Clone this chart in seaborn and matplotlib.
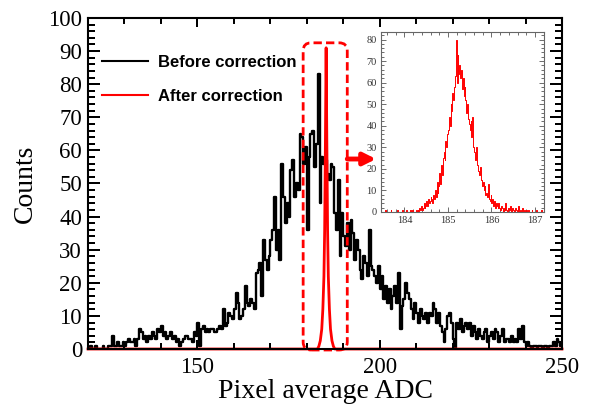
import numpy as np
import pandas as pd
import matplotlib
matplotlib.use("Agg")
import matplotlib.pyplot as plt
import seaborn as sns
from matplotlib.patches import FancyBboxPatch
from matplotlib.lines import Line2D
from matplotlib.ticker import MultipleLocator
from matplotlib.font_manager import FontProperties

# ---------------- data ----------------
# Pixel-average ADC distribution before correction: 0.5 ADC bins from 120 to 250
before_range = (120.0, 250.0)
before_counts = [
    0, 1, 0, 0, 1, 0, 0, 0, 1, 0, 0, 1, 1, 4, 1, 1, 2, 1, 1, 2,      # 120-130
    1, 2, 3, 2, 2, 3, 1, 3, 6, 5, 3, 4, 2, 4, 3, 5, 4, 3, 6, 5,      # 130-140
    7, 4, 5, 3, 4, 5, 3, 4, 2, 3, 1, 2, 3, 4, 4, 3, 3, 2, 5, 4,      # 140-150
    8, 1, 6, 7, 5, 6, 5, 6, 6, 5, 5, 6, 7, 6, 12, 7, 8, 11, 10, 9,   # 150-160
    12, 17, 14, 9, 10, 12, 19, 14, 13, 15, 14, 12, 23, 24, 26, 16, 33, 27, 24, 28,  # 160-170
    33, 36, 46, 30, 36, 27, 56, 46, 38, 44, 40, 54, 57, 46, 50, 48, 65, 64, 56, 61,  # 170-180
    36, 58, 65, 66, 55, 62, 83, 44, 58, 56, 57, 53, 51, 56, 55, 41, 36, 51, 28, 41,  # 180-190
    34, 31, 38, 30, 39, 35, 27, 33, 30, 24, 21, 28, 26, 22, 36, 25, 24, 22, 20, 25,  # 190-200
    18, 22, 15, 19, 14, 18, 12, 16, 19, 14, 23, 6, 13, 15, 20, 17, 15, 12, 9, 14,    # 200-210
    11, 8, 12, 10, 9, 11, 8, 11, 10, 14, 12, 8, 11, 7, 5, 2, 6, 10, 11, 8,           # 210-220
    3, 0, 8, 6, 9, 5, 7, 8, 6, 8, 4, 7, 5, 3, 6, 4, 3, 5, 6, 2,                      # 220-230
    4, 5, 3, 6, 5, 2, 4, 6, 2, 3, 3, 2, 4, 2, 3, 2, 6, 3, 7, 2,                      # 230-240
    1, 2, 1, 0, 1, 1, 0, 1, 1, 0, 1, 1, 0, 1, 1, 2, 1, 3, 2, 1,                      # 240-250
]

# Distribution after correction (main panel)
after_adc = [120.0, 182.9, 183.3, 183.7, 184.1, 184.4, 184.7, 184.9, 185.1, 185.3,
             185.5, 185.7, 185.9, 186.2, 186.5, 186.9, 187.3, 187.7, 250.0]
after_counts = [0, 0, 0.8, 2.5, 6, 12, 22, 36, 62, 91,
                62, 36, 22, 12, 6, 2.5, 0.8, 0, 0]

# Zoomed distribution after correction: 0.02 ADC bins from 183.40 to 187.30
zoom_range = (183.40, 187.30)
zoom_counts = [
    0, 0, 0, 0, 0, 0, 0, 0, 1, 0, 0, 0, 0, 0, 1, 0, 0, 0, 0, 0,
    0, 1, 0, 0, 0, 0, 0, 1, 0, 0,                                   # 183.4-184.0
    0, 0, 1, 0, 0, 0, 1, 0, 0, 1, 0, 0, 0, 1, 0,                    # 184.0-184.3
    1, 0, 2, 1, 3, 1, 2, 4, 2, 3,                                   # 184.3-184.5
    5, 3, 6, 4, 5, 7, 6, 4, 8, 6,                                   # 184.5-184.7
    10, 7, 14, 9, 12, 18, 13, 22, 17, 25,                           # 184.7-184.9
    28, 24, 33, 30, 36, 38, 44, 40, 50, 47,                         # 184.9-185.1
    55, 52, 58, 63, 80, 60, 73, 64, 68, 62,                         # 185.1-185.3
    66, 57, 62, 54, 58, 52, 46, 50, 43, 41,                         # 185.3-185.5
    38, 42, 35, 44, 30, 28, 24, 30, 22, 20,                         # 185.5-185.7
    19, 17, 21, 15, 12, 14, 10, 12, 8, 9,                           # 185.7-185.9
    7, 13, 6, 5, 8,                                                 # 185.9-186.0
    4, 6, 3, 5, 2, 4, 3, 2, 4, 2,                                   # 186.0-186.2
    1, 3, 2, 0, 2, 1, 4, 1, 0, 2, 1, 3, 0, 1, 2,                    # 186.2-186.5
    1, 0, 2, 1, 0, 1, 3, 0, 1, 0, 2, 0, 1, 0, 0, 1, 0, 1, 0, 0,     # 186.5-186.9
    0, 1, 0, 0, 0, 0, 1, 0, 0, 0, 0, 0, 1, 0, 0, 0, 0, 0, 1, 0,     # 186.9-187.3
]

labels = ["Before correction", "After correction"]
x_ticks = [150, 200, 250]
y_ticks = [0, 10, 20, 30, 40, 50, 60, 70, 80, 90, 100]
inset_x_ticks = [184, 185, 186, 187]
inset_y_ticks = [0, 10, 20, 30, 40, 50, 60, 70, 80]


def binned_frame(counts, lo, hi):
    """Bin centres and weights for a fixed-width histogram over [lo, hi]."""
    n = len(counts)
    edges = np.linspace(lo, hi, n + 1)
    centers = 0.5 * (edges[:-1] + edges[1:])
    return pd.DataFrame({"adc": centers, "count": np.asarray(counts, float)})


# ---------------- figure ----------------
plt.rcParams.update({
    "font.family": ["Liberation Serif", "DejaVu Serif"],
    "xtick.direction": "in", "ytick.direction": "in",
})

main_rect = [0.1492, 0.1467, 0.8034, 0.8093]
fig = plt.figure(figsize=(5.9, 4.09), dpi=100)
ax = fig.add_axes(main_rect)
ax.set_zorder(1)

before_df = binned_frame(before_counts, *before_range)
sns.histplot(data=before_df, x="adc", weights="count",
             bins=len(before_counts), binrange=before_range,
             element="step", fill=False, color="black", linewidth=1.7, ax=ax)

sns.lineplot(x=after_adc, y=after_counts, sort=False, color="red",
             linewidth=2.0, ax=ax, zorder=5, clip_on=False)

ax.set_xlim(120, 250)
ax.set_ylim(0, 100)
ax.set_xticks(x_ticks)
ax.set_yticks(y_ticks)
ax.tick_params(which="both", labelleft=False, labelbottom=False,
               left=False, bottom=False)
ax.set_xlabel("")
ax.set_ylabel("")
for sp in ax.spines.values():
    sp.set_visible(False)

# dashed frame around the corrected peak
frame = FancyBboxPatch((179.0, -0.3), 12.1, 92.8,
                       boxstyle="round,pad=0,rounding_size=2.2",
                       mutation_aspect=1.1, fill=False, edgecolor="red",
                       linewidth=2.0, linestyle=(0, (3, 1.5)),
                       clip_on=False, zorder=6)
ax.add_patch(frame)

# arrow pointing to the zoomed panel
ax.annotate("", xy=(199.0, 57.4), xytext=(191.1, 57.4),
            arrowprops=dict(arrowstyle="-|>,head_length=0.6,head_width=0.3",
                            color="red", lw=3.5, shrinkA=0, shrinkB=0,
                            mutation_scale=12),
            annotation_clip=False, zorder=6)

# legend
handles = [Line2D([], [], color="black", lw=1.5),
           Line2D([], [], color="red", lw=1.5)]
ax.legend(handles, labels, loc="upper left",
          bbox_to_anchor=(101.7 / 590, 1 - 55 / 409),
          bbox_transform=fig.transFigure, frameon=False,
          borderaxespad=0, borderpad=0, handlelength=2.8,
          handletextpad=0.55, labelspacing=1.15,
          prop=FontProperties(family="Liberation Sans", weight="bold", size=12))

# ---------------- frame, ticks and labels of the main panel ----------------
axf = fig.add_axes(main_rect, facecolor="none")
axf.set_zorder(2)
axf.set_xlim(120, 250)
axf.set_ylim(0, 100)
axf.set_xticks(x_ticks)
axf.set_yticks(y_ticks)
axf.xaxis.set_minor_locator(MultipleLocator(10))
axf.yaxis.set_minor_locator(MultipleLocator(2))
axf.tick_params(which="both", direction="in", top=True, right=True,
                bottom=True, left=True, width=1.4, color="black")
axf.tick_params(axis="y", which="major", length=8.6, labelsize=16.5, pad=4.3)
axf.tick_params(axis="y", which="minor", length=5)
axf.tick_params(axis="x", which="major", length=6.5, labelsize=16.5, pad=5.5)
axf.tick_params(axis="x", which="minor", length=4)

# inward tick marks on all four sides, drawn as short segments
y_minor = [v for v in range(0, 101, 2) if v % 10 != 0]
x_minor = [v for v in range(130, 250, 10) if v not in x_ticks]
y_tr = axf.get_yaxis_transform()
x_tr = axf.get_xaxis_transform()
tick_style = dict(colors="black", linewidths=1.4, clip_on=False, zorder=4)
for ys, frac in ((y_ticks, 12 / 474), (y_minor, 7 / 474)):
    axf.hlines(ys, 0, frac, transform=y_tr, **tick_style)
    axf.hlines(ys, 1 - frac, 1, transform=y_tr, **tick_style)
for xs, frac in ((x_ticks, 9 / 331), (x_minor, 5.5 / 331)):
    axf.vlines(xs, 0, frac, transform=x_tr, **tick_style)
    axf.vlines(xs, 1 - frac, 1, transform=x_tr, **tick_style)
axf.set_xlim(120, 250)
axf.set_ylim(0, 100)

for sp in axf.spines.values():
    sp.set_linewidth(1.5)
    sp.set_color("black")
axf.set_xlabel("Pixel average ADC", fontsize=20)
axf.set_ylabel("Counts", fontsize=20)
axf.xaxis.set_label_coords(0.5, -0.09)
axf.yaxis.set_label_coords(-0.105, 0.5)

# ---------------- zoomed panel ----------------
ax2 = fig.add_axes([381 / 590, 1 - 212 / 409, 162.7 / 590, 180 / 409])
ax2.set_zorder(3)
ax2.set_facecolor("white")
zoom_df = binned_frame(zoom_counts, *zoom_range)
sns.histplot(data=zoom_df, x="adc", weights="count",
             bins=len(zoom_counts), binrange=zoom_range,
             element="step", fill=False, color="red", linewidth=0.7, ax=ax2)
ax2.set_xlim(183.46, 187.2)
ax2.set_ylim(0, 83.5)
ax2.set_xticks(inset_x_ticks)
ax2.set_yticks(inset_y_ticks)
ax2.xaxis.set_minor_locator(MultipleLocator(0.2))
ax2.yaxis.set_minor_locator(MultipleLocator(2))
ax2.tick_params(which="both", direction="in", top=True, right=True,
                width=0.6, color="#555555", labelsize=7.5,
                labelcolor="#333333", pad=3)
ax2.tick_params(which="major", length=3.5)
ax2.tick_params(which="minor", length=2)
ax2.set_xlabel("")
ax2.set_ylabel("")
for sp in ax2.spines.values():
    sp.set_linewidth(0.8)
    sp.set_color("#666666")

fig.savefig("out.png", dpi=100)
